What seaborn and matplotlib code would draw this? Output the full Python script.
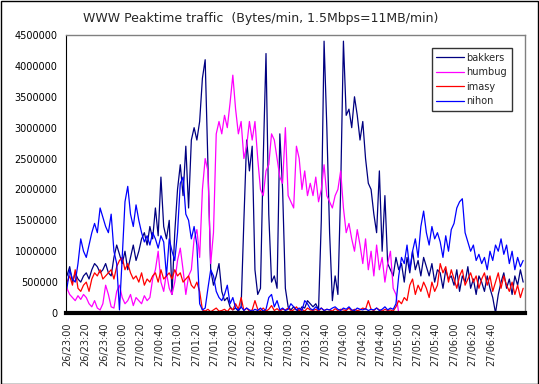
import numpy as np
import pandas as pd
import matplotlib
matplotlib.use("Agg")
import matplotlib.pyplot as plt
import seaborn as sns
from matplotlib.patches import Rectangle

# minutes after 26/23:00, sampled every 3 minutes
minutes = list(range(0, 498, 3))

# values in thousands of bytes/min
bakkers = [600, 750, 500, 650, 550, 500, 600, 650, 550, 700,
           800, 750, 650, 700, 800, 650, 600, 900, 1100, 950,
           800, 1000, 700, 900, 1100, 850, 1000, 1200, 1300, 1100,
           1400, 1200, 1700, 1250, 2200, 1400, 1200, 1500, 300, 1300,
           2000, 2400, 1900, 2700, 1700, 2800, 3000, 2800, 3100, 3800,
           4100, 2400, 700, 450, 600, 800, 350, 200, 250, 100,
           50, 80, 30, 100, 1500, 2800, 2300, 2700, 700, 300,
           400, 2500, 4200, 1600, 500, 600, 400, 2900, 2000, 400,
           100, 50, 100, 50, 30, 100, 80, 200, 150, 100,
           150, 50, 1500, 4400, 3000, 1300, 200, 600, 300, 2000,
           4400, 3200, 3300, 3000, 3500, 3200, 2800, 3100, 2500, 2100,
           2000, 1600, 1300, 2300, 1000, 1900, 800, 700, 600, 900,
           700, 800, 500, 900, 650, 1000, 700, 850, 600, 900,
           750, 600, 800, 500, 700, 650, 400, 700, 550, 600,
           450, 700, 350, 600, 500, 750, 400, 550, 300, 600,
           500, 350, 600, 400, 250, 0, 300, 500, 650, 400,
           550, 300, 600, 450, 700, 500]

humbug = [400, 300, 250, 200, 280, 220, 300, 250, 150, 100,
          200, 80, 50, 150, 450, 300, 100, 80, 350, 450,
          250, 150, 200, 300, 120, 250, 200, 150, 280, 200,
          250, 550, 700, 1000, 500, 350, 650, 400, 300, 500,
          850, 1050, 700, 300, 600, 700, 1200, 1350, 900, 2000,
          2500, 2300, 800, 1300, 2900, 3100, 2900, 3200, 3000, 3400,
          3850, 3300, 2900, 3100, 2500, 2700, 3100, 2800, 3100, 2500,
          2000, 1900, 2300, 2400, 2900, 2800, 2500, 2200, 2100, 3000,
          1900, 1800, 1700, 2700, 2500, 2000, 2300, 1900, 2100, 1900,
          2200, 1800, 2000, 2400, 1900, 1800, 1700, 1900, 2000, 2300,
          1700, 1300, 1450, 1200, 1000, 1350, 1100, 800, 1200, 700,
          1000, 600, 1100, 700, 900, 500, 800, 1000, 400, 300,
          0, 0, 0, 0, 0, 0, 0, 0, 0, 0,
          0, 0, 0, 0, 0, 0, 0, 0, 0, 0,
          0, 0, 0, 0, 0, 0, 0, 0, 0, 0,
          0, 0, 0, 0, 0, 0, 0, 0, 0, 0,
          0, 0, 0, 0, 0, 0]

imasy = [500, 600, 450, 700, 400, 350, 450, 500, 350, 550,
         650, 600, 700, 550, 600, 650, 700, 550, 750, 850,
         900, 700, 800, 650, 550, 600, 500, 650, 450, 550,
         500, 600, 650, 500, 700, 550, 600, 650, 550, 700,
         600, 650, 500, 550, 600, 450, 400, 500, 350, 50,
         30, 60, 20, 50, 80, 30, 40, 60, 20, 80,
         50, 150, 60, 250, 40, 80, 30, 50, 200, 60,
         40, 80, 30, 60, 120, 40, 70, 30, 60, 50,
         80, 30, 50, 100, 40, 60, 30, 80, 50, 40,
         60, 30, 80, 40, 60, 50, 30, 70, 40, 60,
         50, 40, 80, 30, 60, 40, 50, 80, 60, 200,
         60, 40, 80, 50, 30, 60, 40, 50, 30, 100,
         200, 150, 250, 200, 450, 550, 300, 450, 350, 500,
         400, 250, 500, 350, 450, 800, 650, 750, 500, 700,
         550, 400, 600, 700, 450, 550, 650, 500, 600, 400,
         550, 650, 450, 600, 350, 500, 650, 400, 600, 450,
         350, 500, 300, 450, 250, 400]

nihon = [400, 700, 550, 500, 800, 1200, 1000, 900, 1100, 1300,
         1450, 1300, 1700, 1550, 1400, 1300, 1600, 1000, 800, 50,
         900, 1800, 2050, 1600, 1400, 1750, 1500, 1300, 1150, 1250,
         1100, 1300, 1200, 1050, 1250, 1150, 600, 1200, 1000, 850,
         1300, 2100, 2200, 1600, 1500, 1200, 1400, 1100, 150, 50,
         80, 400, 700, 600, 350, 250, 200, 300, 450, 150,
         250, 80, 50, 100, 40, 80, 50, 30, 60, 40,
         80, 30, 60, 250, 300, 100, 200, 50, 80, 40,
         60, 150, 100, 50, 80, 40, 200, 150, 70, 50,
         100, 50, 80, 40, 60, 50, 80, 100, 60, 40,
         80, 60, 100, 50, 40, 80, 60, 50, 70, 40,
         60, 50, 80, 40, 60, 100, 50, 80, 60, 150,
         600, 900, 800, 1100, 700, 1000, 1200, 900, 1400, 1650,
         1300, 1100, 1400, 1200, 1300, 1150, 900, 1250, 1000, 1350,
         1450, 1700, 1800, 1850, 1300, 1150, 1000, 1100, 850, 950,
         800, 900, 700, 1000, 850, 1100, 1000, 1200, 950, 1100,
         800, 1000, 700, 900, 750, 850]

series_names = ["bakkers", "humbug", "imasy", "nihon"]
tick_labels = ["26/23:00", "26/23:20", "26/23:40", "27/00:00", "27/00:20",
               "27/00:40", "27/01:00", "27/01:20", "27/01:40", "27/02:00",
               "27/02:20", "27/02:40", "27/03:00", "27/03:20", "27/03:40",
               "27/04:00", "27/04:20", "27/04:40", "27/05:00", "27/05:20",
               "27/05:40", "27/06:00", "27/06:20", "27/06:40"]
title = "WWW Peaktime traffic  (Bytes/min, 1.5Mbps=11MB/min)"

frames = []
for name, vals in zip(series_names, [bakkers, humbug, imasy, nihon]):
    frames.append(pd.DataFrame({"minute": minutes,
                                "value": np.array(vals) * 1000,
                                "series": name}))
df = pd.concat(frames, ignore_index=True)

sns.set_style("white")
plt.rcParams["font.family"] = ["DejaVu Sans"]

fig = plt.figure(figsize=(5.39, 3.84), dpi=100)
ax = fig.add_axes([66 / 539, 1 - 313 / 384, (525 - 66) / 539, (313 - 35) / 384])

palette = {"bakkers": "#000080", "humbug": "#FF00FF",
           "imasy": "#FF0000", "nihon": "#0000FF"}
sns.lineplot(data=df, x="minute", y="value", hue="series",
             hue_order=series_names, palette=palette, linewidth=0.9,
             ax=ax, legend=True)

ax.set_xlim(-1, 497)
ax.set_ylim(0, 4500000)
ax.set_yticks(range(0, 4500001, 500000))
ax.set_yticklabels([str(v) for v in range(0, 4500001, 500000)], fontsize=7)
ax.set_xticks(range(0, 461, 20))
ax.set_xticklabels(tick_labels, rotation=90, fontsize=7)
ax.tick_params(axis="y", direction="in", length=3, width=0.8, pad=6, colors="black")
ax.tick_params(axis="x", length=0, pad=7)
ax.set_xlabel("")
ax.set_ylabel("")

for s in ["top", "right"]:
    ax.spines[s].set_color("#808080")
    ax.spines[s].set_linewidth(1)
ax.spines["left"].set_color("black")
ax.spines["left"].set_linewidth(0.8)
ax.spines["bottom"].set_color("black")
ax.spines["bottom"].set_linewidth(3)

leg = ax.legend(loc="upper right", bbox_to_anchor=((512 - 66) / 459, (313 - 48) / 278),
                fontsize=7, frameon=True, fancybox=False, handlelength=2.8,
                labelspacing=0.45, borderpad=0.5, handletextpad=0.3,
                borderaxespad=0)
leg.get_frame().set_edgecolor("black")
leg.get_frame().set_linewidth(1)

fig.text(0.484, 0.953, title, ha="center", va="center", fontsize=9)
fig.patches.append(Rectangle((0.001, 0.001), 0.997, 0.997, transform=fig.transFigure,
                             fill=False, edgecolor="black", linewidth=1))

fig.savefig("out.png", dpi=100, facecolor="white")
